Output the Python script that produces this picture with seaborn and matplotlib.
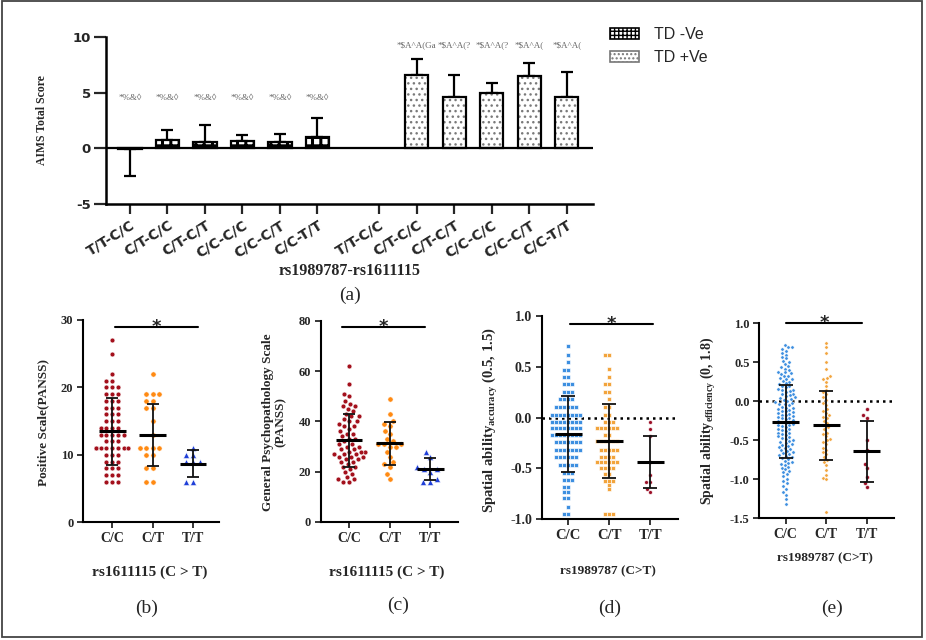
import numpy as np
import pandas as pd
import matplotlib
matplotlib.use("Agg")
import matplotlib.pyplot as plt
import seaborn as sns
from matplotlib.patches import Patch, Rectangle

# ---------------- data : panel (a) ----------------
haplotypes = ["T/T-C/C", "C/T-C/C", "C/T-C/T", "C/C-C/C", "C/C-C/T", "C/C-T/T"]
td_neg_mean = [-0.10, 0.78, 0.57, 0.63, 0.57, 1.02]
td_neg_err = [2.42, 0.84, 1.50, 0.54, 0.75, 1.74]
td_pos_mean = [np.nan, 6.58, 4.62, 4.98, 6.52, 4.62]
td_pos_err = [np.nan, 1.47, 1.93, 0.85, 1.17, 2.20]
td_neg_notes = ["*%&◊", "*%&◊", "*%&◊", "*%&◊", "*%&◊", "*%&◊"]
td_pos_notes = ["", "*$A^A(Ga", "*$A^A(?", "*$A^A(?", "*$A^A(", "*$A^A("]
legend_labels = ["TD -Ve", "TD +Ve"]

# ---------------- data : panels (b)-(e) ----------------
genotypes = ["C/C", "C/T", "T/T"]

b_cc = [27, 25, 22, 21, 21, 20, 20, 20, 19, 19, 19, 18, 18, 18, 17, 17, 17, 16, 16, 16,
        15, 15, 15, 14, 14, 14, 14, 13, 13, 13, 13, 13, 12, 12, 12, 11, 11, 11, 11, 11,
        11, 11, 11, 10, 10, 10, 9, 9, 9, 8, 8, 8, 7, 7, 7, 6, 6, 6]
b_ct = [22, 19, 19, 19, 18, 18, 17, 17, 15, 13, 11, 11, 11, 11, 10, 10, 8, 8, 6, 6]
b_tt = [11, 10, 10, 9, 9, 9, 6, 6]
b_mean = [13.5, 13.0, 8.7]
b_sd = [5.0, 4.6, 2.0]

c_cc = [62, 55, 51, 50, 48, 47, 46, 46, 45, 44, 43, 42, 42, 41, 40, 40, 39, 38, 38, 37,
        36, 35, 35, 34, 33, 33, 32, 31, 31, 30, 30, 29, 29, 28, 28, 28, 27, 27, 27, 26,
        26, 26, 25, 25, 24, 24, 23, 22, 22, 21, 20, 19, 18, 17, 17, 16, 16]
c_ct = [49, 43, 40, 39, 38, 36, 35, 33, 32, 31, 31, 31, 30, 30, 28, 26, 24, 23, 22, 19, 17]
c_tt = [28, 26, 22, 21, 21, 20, 17, 16, 16]
c_mean = [32.5, 31.2, 21.0]
c_sd = [10.5, 8.4, 4.3]

d_cc = [0.70, 0.62, 0.55, 0.47, 0.47, 0.40, 0.40, 0.33, 0.33, 0.33, 0.25, 0.25, 0.25,
        0.18, 0.18, 0.18, 0.18, 0.10, 0.10, 0.10, 0.10, 0.10, 0.10,
        0.03, 0.03, 0.03, 0.03, 0.03, 0.03, 0.03, 0.03,
        -0.04, -0.04, -0.04, -0.04, -0.04, -0.04, -0.04, -0.04,
        -0.10, -0.10, -0.10, -0.10, -0.10, -0.10, -0.10, -0.10,
        -0.17, -0.17, -0.17, -0.17, -0.17, -0.17, -0.17, -0.17,
        -0.24, -0.24, -0.24, -0.24, -0.24, -0.24, -0.24,
        -0.32, -0.32, -0.32, -0.32, -0.32, -0.32, -0.32,
        -0.39, -0.39, -0.39, -0.39, -0.39, -0.39,
        -0.47, -0.47, -0.47, -0.47, -0.47, -0.54, -0.54, -0.54,
        -0.61, -0.61, -0.61, -0.68, -0.68, -0.73, -0.73, -0.79, -0.79, -0.88, -0.95, -0.95]
d_ct = [0.62, 0.62, 0.48, 0.40, 0.33, 0.33, 0.25, 0.25, 0.18, 0.10, 0.10, 0.03, 0.03,
        -0.04, -0.04, -0.04, -0.10, -0.10, -0.10, -0.10, -0.10, -0.10, -0.17, -0.17,
        -0.23, -0.23, -0.23, -0.23, -0.23, -0.23, -0.32, -0.32, -0.32, -0.32, -0.32,
        -0.39, -0.39, -0.39, -0.39, -0.44, -0.44, -0.44, -0.44, -0.44, -0.44,
        -0.50, -0.50, -0.50, -0.50, -0.55, -0.55, -0.62, -0.62, -0.62, -0.66, -0.70,
        -0.95, -0.95, -0.95]
d_tt = [-0.04, -0.11, -0.18, -0.44, -0.56, -0.63, -0.63, -0.70, -0.73]
d_mean = [-0.16, -0.23, -0.44]
d_sd = [0.37, 0.36, 0.255]

e_cc = [0.72, 0.70, 0.69, 0.67, 0.65, 0.62, 0.60, 0.57, 0.55, 0.52, 0.50, 0.48, 0.45, 0.44,
        0.42, 0.40, 0.38, 0.37, 0.36, 0.35, 0.33, 0.32, 0.30, 0.29, 0.28, 0.26, 0.25, 0.23,
        0.22, 0.20, 0.19, 0.18, 0.16, 0.15, 0.14, 0.13, 0.12, 0.10, 0.09, 0.08, 0.07, 0.05,
        0.04, 0.03, 0.02, 0.01, -0.01, -0.02, -0.03, -0.04, -0.05, -0.07, -0.08, -0.09,
        -0.10, -0.11, -0.12, -0.13, -0.14, -0.15, -0.16, -0.17, -0.18, -0.19, -0.20, -0.21,
        -0.22, -0.23, -0.24, -0.25, -0.26, -0.27, -0.28, -0.29, -0.30, -0.31, -0.32, -0.33,
        -0.35, -0.36, -0.37, -0.38, -0.40, -0.41, -0.42, -0.43, -0.45, -0.46, -0.47, -0.48,
        -0.50, -0.51, -0.52, -0.53, -0.55, -0.56, -0.57, -0.58, -0.60, -0.61, -0.62, -0.64,
        -0.65, -0.66, -0.68, -0.69, -0.70, -0.72, -0.73, -0.74, -0.76, -0.78, -0.79, -0.80,
        -0.82, -0.84, -0.85, -0.87, -0.89, -0.91, -0.93, -0.96, -0.99, -1.02, -1.05, -1.08,
        -1.12, -1.16, -1.20, -1.25, -1.32]
e_ct = [0.75, 0.70, 0.62, 0.50, 0.42, 0.32, 0.30, 0.28, 0.25, 0.20, 0.15, 0.12, 0.10,
        0.05, 0.02, -0.02, -0.05, -0.10, -0.12, -0.15, -0.18, -0.20, -0.22, -0.25, -0.28,
        -0.31, -0.33, -0.36, -0.40, -0.42, -0.45, -0.48, -0.50, -0.52, -0.55, -0.60, -0.62,
        -0.65, -0.68, -0.72, -0.75, -0.78, -0.82, -0.88, -0.95, -0.98, -1.00, -1.42]
e_tt = [-0.10, -0.18, -0.21, -0.50, -0.62, -0.80, -0.85, -0.97, -1.05, -1.10]
e_mean = [-0.26, -0.31, -0.64]
e_sd = [0.47, 0.44, 0.39]

# ---------------- setup ----------------
sns.set_theme(style="ticks")
plt.rcParams["font.family"] = ["DejaVu Sans"]
plt.rcParams["mathtext.fontset"] = "custom"
plt.rcParams["mathtext.rm"] = "Liberation Serif"
plt.rcParams["mathtext.it"] = "Liberation Serif:italic"
plt.rcParams["mathtext.bf"] = "Liberation Serif:bold"

W, H = 926, 640
fig = plt.figure(figsize=(W / 100, H / 100), dpi=100)
fig.patch.set_facecolor("white")


def fx(x):
    return x / W


def fy(y):
    return 1 - y / H


def add_ax(l, r, t, b):
    return fig.add_axes([fx(l), fy(b), (r - l) / W, (b - t) / H])


SERIF = "Liberation Serif"

# ---------------- panel (a) ----------------
axa = add_ax(106, 593, 37, 204)
pos1 = np.arange(6, dtype=float)
pos2 = np.arange(6, dtype=float) + 6.65

df_neg = pd.DataFrame({"pos": pos1, "val": td_neg_mean})
df_pos = pd.DataFrame({"pos": pos2, "val": td_pos_mean}).dropna()

with plt.rc_context({"hatch.linewidth": 2.2}):
    sns.barplot(data=df_neg, x="pos", y="val", native_scale=True, width=0.62,
                color="white", edgecolor="black", linewidth=1.6, hatch="++",
                errorbar=None, ax=axa, zorder=3)
with plt.rc_context({"hatch.linewidth": 1.0}):
    sns.barplot(data=df_pos, x="pos", y="val", native_scale=True, width=0.62,
                color="white", edgecolor="#7a7a7a", linewidth=0, hatch="...",
                errorbar=None, ax=axa, zorder=3)
    sns.barplot(data=df_pos, x="pos", y="val", native_scale=True, width=0.62,
                fill=False, edgecolor="black", linewidth=1.6,
                errorbar=None, ax=axa, zorder=4)

neg_m = np.array(td_neg_mean)
neg_e = np.array(td_neg_err)
axa.errorbar(pos1, neg_m, yerr=[np.where(neg_m < 0, neg_e, 0), np.where(neg_m < 0, 0, neg_e)],
             fmt="none", ecolor="black", elinewidth=1.6, capsize=4.5, capthick=1.6, zorder=2)
pm = np.array(df_pos["val"])
pe = np.array(td_pos_err)[1:]
axa.errorbar(np.array(df_pos["pos"]), pm, yerr=[np.zeros_like(pe), pe],
             fmt="none", ecolor="black", elinewidth=1.6, capsize=4.5, capthick=1.6, zorder=2)
axa.axhline(0, color="black", lw=1.6, zorder=5)

for p, t in zip(pos1, td_neg_notes):
    axa.text(p, 4.5, t, ha="center", va="center", fontsize=6.5, color="#666666",
             family=SERIF)
for p, t in zip(pos2, td_pos_notes):
    if t:
        axa.text(p, 9.3, t, ha="center", va="center", fontsize=6.5, color="#666666",
                 family=SERIF)

axa.set_xlim(-0.64, 12.35)
axa.set_ylim(-5, 10)
axa.set_yticks([-5, 0, 5, 10])
axa.set_yticklabels(["-5", "0", "5", "10"], fontsize=9.5, fontweight="bold",
                    family="DejaVu Sans")
axa.set_xticks(np.concatenate([pos1, pos2]))
axa.set_xticklabels(haplotypes + haplotypes, rotation=32, ha="right",
                    rotation_mode="anchor", fontsize=10, fontweight="bold",
                    family="DejaVu Sans")
axa.tick_params(axis="y", length=9, width=1.6, pad=2)
axa.tick_params(axis="x", length=7, width=1.6, pad=3)
axa.set_xlabel("")
axa.set_ylabel("")
for s in ["top", "right"]:
    axa.spines[s].set_visible(False)
for s in ["left", "bottom"]:
    axa.spines[s].set_linewidth(1.8)
    axa.spines[s].set_color("black")

fig.text(fx(42), fy(120), "AIMS Total Score", rotation=90, ha="center", va="center",
         fontsize=8.5, fontweight="bold", family=SERIF)
fig.text(fx(350), fy(271), "rs1989787-rs1611115", ha="center", va="center",
         fontsize=11.5, fontweight="bold", family=SERIF)
fig.text(fx(350), fy(295), "(a)", ha="center", va="center", fontsize=14, family=SERIF)

handles = [Patch(facecolor="white", edgecolor="black", hatch="++++", lw=1.2),
           Patch(facecolor="white", edgecolor="#777777", hatch="....", lw=1.2)]
leg = fig.legend(handles, legend_labels, loc="upper left",
                 bbox_to_anchor=(fx(596), fy(13)), frameon=False,
                 handlelength=1.8, handleheight=0.7, handletextpad=0.9,
                 labelspacing=0.5, prop={"family": "Liberation Sans", "size": 11.5})


# ---------------- panels (b)-(e) ----------------
def scatter_panel(ax, vals, colors, markers, msizes, gap, means, sds, ylim, yticks, ytl,
                  sig, tick_fs, xt_fs, mean_w=0.33, cap_w=0.15):
    for i, (g, v) in enumerate(zip(genotypes, vals)):
        df = pd.DataFrame({"geno": [g] * len(v), "val": v})
        sns.swarmplot(data=df, x="geno", y="val", order=genotypes, color=colors[i],
                      marker=markers[i], size=msizes[i], linewidth=gap,
                      edgecolor="white", ax=ax, warn_thresh=1, zorder=2)
    for i, (m, s) in enumerate(zip(means, sds)):
        ax.vlines(i, m - s, m + s, color="#111111", lw=1.3, zorder=4)
        ax.hlines([m - s, m + s], i - cap_w, i + cap_w, color="#111111", lw=1.3, zorder=4)
        ax.hlines(m, i - mean_w, i + mean_w, color="black", lw=2.2, zorder=5)
    x0, x1, ys = sig
    ax.plot([x0, x1], [ys, ys], color="black", lw=1.5, clip_on=False, zorder=6)
    ax.text((x0 + x1) / 2, ys, "*", ha="center", va="center", fontsize=13,
            fontweight="bold", family="DejaVu Sans", clip_on=False)
    ax.set_ylim(*ylim)
    ax.set_yticks(yticks)
    ax.set_yticklabels(ytl, fontsize=tick_fs, fontweight="bold", family=SERIF)
    ax.set_xticks([0, 1, 2])
    ax.set_xticklabels(genotypes, fontsize=xt_fs, fontweight="bold", family=SERIF)
    ax.tick_params(axis="both", length=4, width=1.3, pad=3)
    ax.set_xlabel("")
    ax.set_ylabel("")
    for s in ["top", "right"]:
        ax.spines[s].set_visible(False)
    for s in ["left", "bottom"]:
        ax.spines[s].set_linewidth(1.5)
        ax.spines[s].set_color("black")


red_dark = "#a3101c"
orange = "#ff8a12"
blue = "#1f3fd8"
lblue = "#3d8fe0"
lorange = "#f2a43c"
maroon = "#9c1028"

# (b)
axb = add_ax(83, 219, 320, 522.3)
scatter_panel(axb, [b_cc, b_ct, b_tt], [red_dark, orange, blue], ["o", "o", "^"],
              [3.5, 3.8, 4.4], 0.4, b_mean, b_sd, (0, 30), [0, 10, 20, 30],
              ["0", "10", "20", "30"], (0.07, 2.12, 28.9), 9, 10)
axb.set_xlim(-0.72, 2.64)
fig.text(fx(43), fy(422), "Positive Scale(PANSS)", rotation=90, ha="center",
         va="center", fontsize=9.5, fontweight="bold", family=SERIF)
fig.text(fx(150), fy(572), "rs1611115 (C > T)", ha="center", va="center",
         fontsize=11, fontweight="bold", family=SERIF)
fig.text(fx(147), fy(608), "(b)", ha="center", va="center", fontsize=14, family=SERIF)

# (c)
axc = add_ax(320.7, 457.7, 320.7, 522)
scatter_panel(axc, [c_cc, c_ct, c_tt], [red_dark, orange, blue], ["o", "o", "^"],
              [3.5, 3.8, 4.4], 0.4, c_mean, c_sd, (0, 80), [0, 20, 40, 60, 80],
              ["0", "20", "40", "60", "80"], (-0.18, 1.88, 77.4), 9, 10)
axc.set_xlim(-0.70, 2.68)
fig.text(fx(274), fy(422), "General Psychopathology Scale\n(PANSS)", rotation=90,
         ha="center", va="center", fontsize=9.5, fontweight="bold", family=SERIF,
         linespacing=1.1, multialignment="center")
fig.text(fx(387), fy(572), "rs1611115 (C > T)", ha="center", va="center",
         fontsize=11, fontweight="bold", family=SERIF)
fig.text(fx(398), fy(605), "(c)", ha="center", va="center", fontsize=14, family=SERIF)

# (d)
axd = add_ax(541.7, 678.3, 316, 519.3)
axd.axhline(0, color="black", lw=1.8, ls=(0, (1, 1.6)), zorder=1)
scatter_panel(axd, [d_cc, d_ct, d_tt], [lblue, lorange, maroon], ["s", "s", "o"],
              [2.3, 2.3, 2.8], 0.45, d_mean, d_sd, (-1.0, 1.0),
              [-1.0, -0.5, 0.0, 0.5, 1.0], ["-1.0", "-0.5", "0.0", "0.5", "1.0"],
              (0.04, 2.07, 0.92), 10, 10.5, cap_w=0.17)
axd.set_xlim(-0.65, 2.68)
fig.text(fx(490), fy(420), r"Spatial ability$_{\mathregular{accuracy}}$ (0.5, 1.5)",
         rotation=90, ha="center", va="center", fontsize=10.5, fontweight="bold",
         family=SERIF)
fig.text(fx(608), fy(571), "rs1989787 (C>T)", ha="center", va="center",
         fontsize=9.5, fontweight="bold", family=SERIF)
fig.text(fx(610), fy(608), "(d)", ha="center", va="center", fontsize=14, family=SERIF)

# (e)
axe = add_ax(759.3, 894, 323.3, 518.3)
axe.axhline(0, color="black", lw=1.8, ls=(0, (1, 1.6)), zorder=1)
scatter_panel(axe, [e_cc, e_ct, e_tt], [lblue, lorange, maroon], ["o", "o", "o"],
              [2.4, 2.4, 2.8], 0.35, e_mean, e_sd, (-1.5, 1.0),
              [-1.5, -1.0, -0.5, 0.0, 0.5, 1.0],
              ["-1.5", "-1.0", "-0.5", "0.0", "0.5", "1.0"], (0.02, 1.87, 1.0), 9, 10,
              cap_w=0.17)
axe.set_xlim(-0.65, 2.67)
fig.text(fx(708), fy(421), r"Spatial ability$_{\mathregular{efficiency}}$ (0, 1.8)",
         rotation=90, ha="center", va="center", fontsize=10, fontweight="bold",
         family=SERIF)
fig.text(fx(825), fy(558), "rs1989787 (C>T)", ha="center", va="center",
         fontsize=9.5, fontweight="bold", family=SERIF)
fig.text(fx(832), fy(608), "(e)", ha="center", va="center", fontsize=14, family=SERIF)

# outer frame
fig.add_artist(Rectangle((fx(2), fy(637)), 920 / W, 636 / H, transform=fig.transFigure,
                         fill=False, edgecolor="#444444", lw=1.3))

fig.savefig("out.png", dpi=100, facecolor="white")
